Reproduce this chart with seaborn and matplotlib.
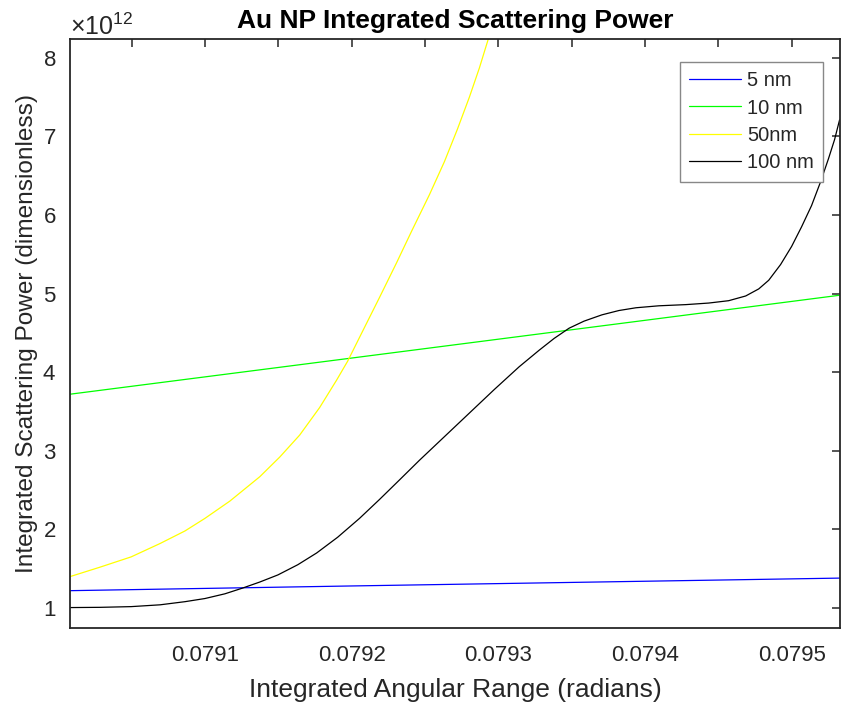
import matplotlib
matplotlib.use("Agg")
import matplotlib.pyplot as plt
import seaborn as sns
import pandas as pd
from matplotlib.ticker import FixedLocator, FixedFormatter, ScalarFormatter

# ---- data (y in units of 1e12) ----
x_5nm = [0.079008, 0.0792, 0.0794, 0.079533]
y_5nm = [1.22, 1.28, 1.34, 1.38]

x_10nm = [0.079008, 0.0792, 0.0794, 0.079533]
y_10nm = [3.72, 4.18, 4.66, 4.98]

x_50nm = [0.0790082, 0.0790286, 0.0790497, 0.0790694, 0.0790864, 0.0791000, 0.0791170,
          0.0791374, 0.0791510, 0.0791646, 0.0791782, 0.0791898, 0.0791973, 0.0792088,
          0.0792190, 0.0792306, 0.0792408, 0.0792531, 0.0792633, 0.0792721, 0.0792803,
          0.0792871, 0.0792932, 0.0792986]
y_50nm = [1.40, 1.52, 1.65, 1.82, 1.98, 2.14, 2.36,
          2.67, 2.92, 3.20, 3.55, 3.90, 4.14, 4.57,
          4.95, 5.39, 5.79, 6.26, 6.68, 7.09, 7.50,
          7.87, 8.24, 8.55]

x_100nm = [0.0790082, 0.0790286, 0.0790497, 0.0790694, 0.0790864, 0.0791000, 0.0791136,
           0.0791252, 0.0791374, 0.0791497, 0.0791633, 0.0791762, 0.0791905, 0.0792054,
           0.0792190, 0.0792327, 0.0792463, 0.0792633, 0.0792803, 0.0792973, 0.0793143,
           0.0793279, 0.0793381, 0.0793483, 0.0793585, 0.0793707, 0.0793823, 0.0793939,
           0.0794095, 0.0794279, 0.0794435, 0.0794571, 0.0794687, 0.0794776, 0.0794844,
           0.0794925, 0.0795000, 0.0795068, 0.0795136, 0.0795197, 0.0795252, 0.0795293,
           0.0795327]
y_100nm = [1.005, 1.008, 1.017, 1.04, 1.08, 1.12, 1.18,
           1.25, 1.33, 1.42, 1.55, 1.70, 1.90, 2.14,
           2.38, 2.63, 2.88, 3.18, 3.48, 3.78, 4.07,
           4.28, 4.43, 4.56, 4.65, 4.73, 4.785, 4.82,
           4.845, 4.86, 4.88, 4.91, 4.97, 5.06, 5.17,
           5.37, 5.60, 5.85, 6.12, 6.42, 6.72, 6.96,
           7.21]

series_labels = ["5 nm", "10 nm", "50nm", "100 nm"]
series_colors = ["#0000ff", "#00ff00", "#ffff00", "#000000"]

x_tick_values = [0.07905, 0.0791, 0.07915, 0.0792, 0.07925, 0.0793, 0.07935,
                 0.0794, 0.07945, 0.0795]
x_tick_labels = ["", "0.0791", "", "0.0792", "", "0.0793", "", "0.0794", "", "0.0795"]
y_tick_values = [1, 2, 3, 4, 5, 6, 7, 8]

SCALE = 1e12

sns.set_style("white")
plt.rcParams['font.family'] = ['Liberation Sans', 'DejaVu Sans']
plt.rcParams['mathtext.fontset'] = 'custom'
plt.rcParams['mathtext.rm'] = 'Liberation Sans'

TXT = "#262626"

fig = plt.figure(figsize=(8.41, 7.07), dpi=100)
ax = fig.add_axes([70 / 841, (707 - 628) / 707, 770 / 841, (628 - 39) / 707])

frames = []
for xs, ys, lab in zip([x_5nm, x_10nm, x_50nm, x_100nm],
                       [y_5nm, y_10nm, y_50nm, y_100nm], series_labels):
    frames.append(pd.DataFrame({"x": xs, "y": [v * SCALE for v in ys], "series": lab}))
df = pd.concat(frames, ignore_index=True)

for lab, col in zip(series_labels, series_colors):
    sub = df[df["series"] == lab]
    sns.lineplot(data=sub, x="x", y="y", ax=ax, color=col, label=lab,
                 linewidth=0.9, sort=False, estimator=None)

ax.set_xlim(0.079008, 0.079533)
ax.set_ylim(0.745 * SCALE, 8.24 * SCALE)

ax.xaxis.set_major_locator(FixedLocator(x_tick_values))
ax.xaxis.set_major_formatter(FixedFormatter(x_tick_labels))
ax.yaxis.set_major_locator(FixedLocator([v * SCALE for v in y_tick_values]))
fmt = ScalarFormatter(useMathText=True)
fmt.set_powerlimits((0, 0))
ax.yaxis.set_major_formatter(fmt)
ax.yaxis.get_offset_text().set_fontsize(18)
ax.yaxis.get_offset_text().set_color(TXT)

ax.tick_params(axis="both", direction="in", length=6, width=1.1, colors=TXT,
               labelsize=16, top=True, right=True)
ax.tick_params(axis="x", pad=12)
ax.tick_params(axis="y", pad=10)
for sp in ax.spines.values():
    sp.set_visible(True)
    sp.set_color(TXT)
    sp.set_linewidth(1.3)

ax.set_xlabel("Integrated Angular Range (radians)", fontsize=19, color=TXT, labelpad=9)
ax.set_ylabel("Integrated Scattering Power (dimensionless)", fontsize=17.6, color=TXT, labelpad=3)
ax.set_title("Au NP Integrated Scattering Power", fontsize=19, fontweight="bold",
             color="black", pad=8)

leg = ax.legend(loc="upper right", bbox_to_anchor=(823 / 841, 1 - 62 / 707),
                bbox_transform=fig.transFigure, borderaxespad=0, frameon=True,
                fancybox=False, framealpha=1, edgecolor="#888888", fontsize=14.5,
                handlelength=2.6, handletextpad=0.3, labelspacing=0.42, borderpad=0.45)
leg.get_frame().set_linewidth(1.0)
for t in leg.get_texts():
    t.set_color(TXT)

fig.savefig("out.png", dpi=100)
